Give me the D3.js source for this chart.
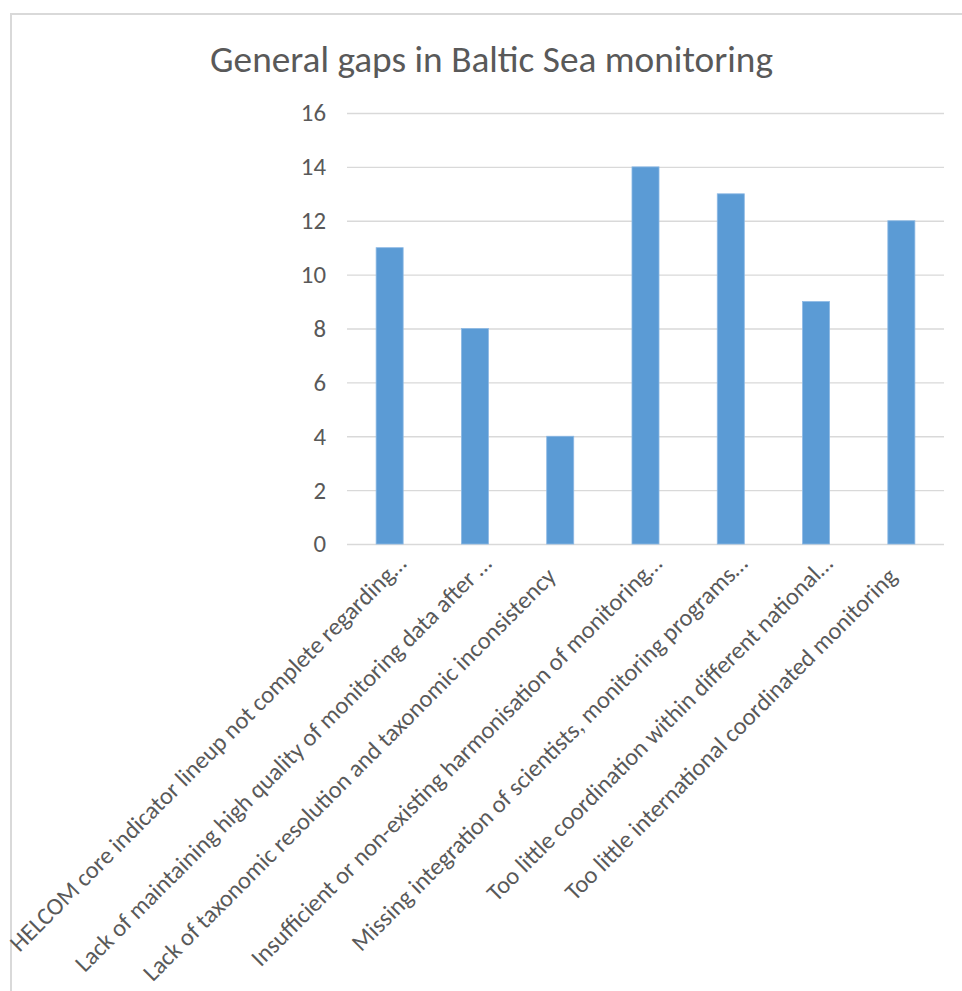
<!DOCTYPE html>
<html><head><meta charset="utf-8">
<script src="https://cdn.jsdelivr.net/npm/d3@7"></script>
<style>body{margin:0;background:#fff} svg{display:block}</style>
</head><body>
<svg id="chart" width="962" height="991"></svg>
<script>
const title = "General gaps in Baltic Sea monitoring";
const categories = [
  "HELCOM core indicator lineup not complete regarding…",
  "Lack of maintaining high quality of monitoring data after …",
  "Lack of taxonomic resolution and taxonomic inconsistency",
  "Insufficient or non-existing harmonisation of monitoring…",
  "Missing integration of scientists, monitoring programs…",
  "Too little coordination within different national…",
  "Too little international coordinated monitoring"
];
const values = [11, 8, 4, 14, 13, 9, 12];
const yTicks = [0, 2, 4, 6, 8, 10, 12, 14, 16];

const FONT = "Calibri, Carlito, Lato, sans-serif";
const TEXT = "#595959";
const GRID = "#D9D9D9";
const BAR = "#5B9BD5";

const svg = d3.select("#chart");

// outer chart border (cut by the viewport at right/bottom)
svg.append("rect").attr("x", 11).attr("y", 14).attr("width", 980).attr("height", 1000)
  .attr("fill", "#fff").attr("stroke", GRID).attr("stroke-width", 2);

const x = d3.scaleBand().domain(categories).range([347, 944])
  .paddingInner(0.683).paddingOuter(0.3415);
const y = d3.scaleLinear().domain([0, 16]).range([544, 113]);

// title fitted to reference width
const t = svg.append("text").text(title).attr("font-family", FONT).attr("font-size", 36)
  .attr("fill", TEXT).attr("text-anchor", "middle").attr("x", 491.5).attr("y", 72);
const tl = t.node().getComputedTextLength();
t.attr("font-size", 36 * 563 / tl);

// gridlines + y axis labels
const yAxis = d3.axisLeft(y).tickValues(yTicks).tickSize(-(944 - 347)).tickPadding(21)
  .tickFormat(d3.format("d"));
const ga = svg.append("g").attr("transform", "translate(347,0)").call(yAxis);
ga.select(".domain").remove();
ga.selectAll(".tick line").attr("stroke", GRID).attr("stroke-width", 1.3);
ga.selectAll(".tick text").attr("fill", TEXT).attr("font-family", FONT);

// bars
svg.append("g").selectAll("rect").data(values).join("rect")
  .attr("x", (d, i) => x(categories[i]))
  .attr("width", x.bandwidth())
  .attr("y", d => y(d))
  .attr("height", d => y(0) - y(d))
  .attr("fill", BAR)
  .attr("stroke", "#8DB9E4").attr("stroke-width", 0.8);

// category labels rotated -45°
const labels = svg.append("g").selectAll("text").data(categories).join("text")
  .text(d => d).attr("font-family", FONT).attr("font-size", 22)
  .attr("fill", TEXT).attr("text-anchor", "end");
const l0 = labels.node().getComputedTextLength();
const fs = 22 * 549 / l0;
labels.attr("font-size", fs).attr("transform", d => {
  const c = x(d) + x.bandwidth() / 2;
  const ell = /…$/.test(d);
  const px = ell ? c + 18 : c - 3;
  const py = ell ? 565 : 578;
  return `translate(${px},${py}) rotate(-45)`;
});
ga.selectAll(".tick text").attr("font-size", fs * 1.02);
</script>
</body></html>
